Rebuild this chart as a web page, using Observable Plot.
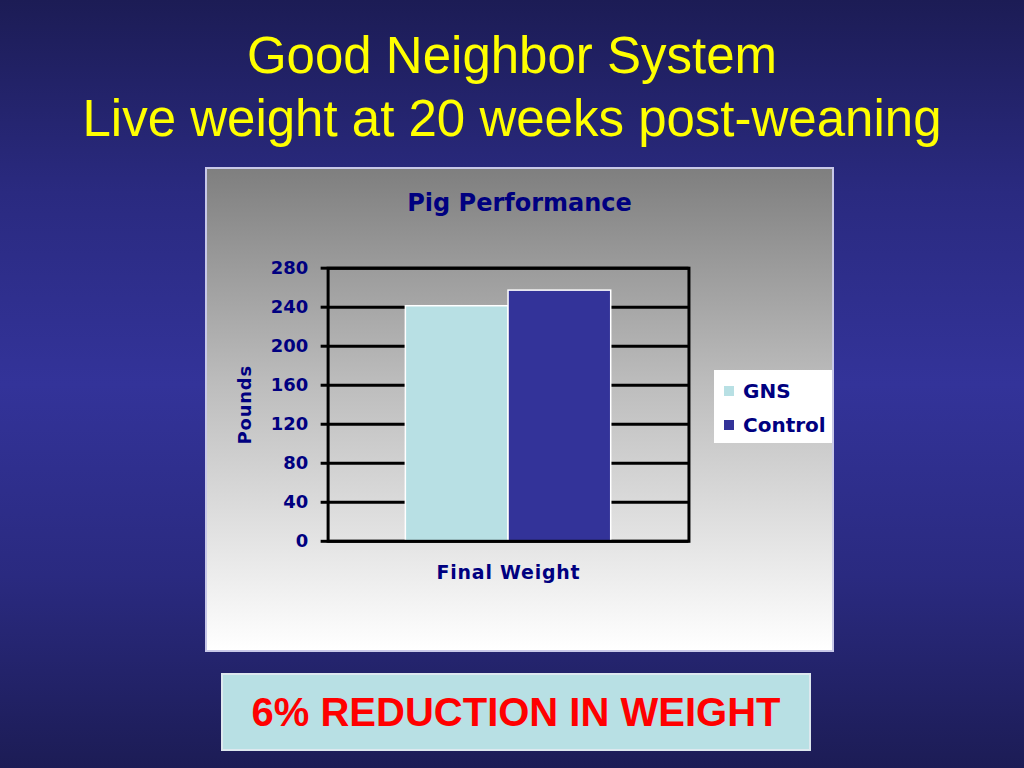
<!DOCTYPE html>
<html>
<head>
<meta charset="utf-8">
<script src="https://cdn.jsdelivr.net/npm/d3@7"></script>
<script src="https://cdn.jsdelivr.net/npm/@observablehq/plot@0.6"></script>
<style>
  html, body { margin: 0; padding: 0; }
  body {
    width: 1024px; height: 768px; overflow: hidden; position: relative;
    background: linear-gradient(to bottom, #1c1c55 0%, #2a2a80 25%, #333399 50%, #2a2a80 75%, #1c1c55 100%);
    font-family: "Liberation Sans", Arial, sans-serif;
  }
  .title {
    position: absolute; left: 0; width: 1024px; text-align: center;
    color: #ffff00; font-size: 51px; line-height: 1;
  }
  #chartbox {
    position: absolute; left: 205px; top: 167px; width: 629px; height: 485px;
    box-sizing: border-box; border: 2px solid #c8c8e8;
    background: linear-gradient(to bottom, #7f7f7f 0%, #bdbdbd 45%, #ffffff 100%);
  }
  #chart { position: absolute; left: -2px; top: -2px; }
  #chart svg text { font-family: "DejaVu Sans", sans-serif; }
  #ctitle {
    position: absolute; left: 0; width: 625px; top: 20px; text-align: center;
    color: #000080; font-weight: bold; font-size: 24px; font-family: "DejaVu Sans", sans-serif;
  }
  #legend {
    position: absolute; left: 507px; top: 201px; width: 118px; height: 73px;
    background: #ffffff; box-sizing: border-box; padding: 8px 0 0 10px;
  }
  .li { display: flex; align-items: center; height: 26px; margin-bottom: 8px;
        color: #000080; font-weight: bold; font-size: 20px; font-family: "DejaVu Sans", sans-serif; }
  .sw { width: 10px; height: 10px; margin-right: 9px; }
  #note {
    position: absolute; left: 221px; top: 673px; width: 590px; height: 78px;
    box-sizing: border-box; border: 2px solid #dde8ee; background: #b8e0e4;
    color: #ff0000; font-weight: bold; font-size: 40px;
    display: flex; align-items: center; justify-content: center;
  }
</style>
</head>
<body>
<div class="title" style="top:30px">Good Neighbor System</div>
<div class="title" style="top:93px">Live weight at 20 weeks post-weaning</div>
<div id="chartbox">
  <div id="ctitle">Pig Performance</div>
  <div id="chart"></div>
  <div id="legend"></div>
</div>
<div id="note">6% REDUCTION IN WEIGHT</div>
<script>
const categories = ["Final Weight"];
const series = ["GNS", "Control"];
const values = [241, 257];
const colors = ["#b8e0e4", "#333399"];
const yTicks = [0, 40, 80, 120, 160, 200, 240, 280];

const data = series.map((s, i) => ({category: categories[0], series: s, value: values[i]}));

const chart = Plot.plot({
  width: 629, height: 485,
  marginLeft: 123, marginRight: 144, marginTop: 101, marginBottom: 110,
  style: {background: "transparent", fontFamily: "'DejaVu Sans', sans-serif", color: "#000", overflow: "visible"},
  fx: {domain: categories, padding: 0, label: null},
  x: {domain: series, paddingOuter: 0.75, paddingInner: 0, axis: null},
  y: {domain: [0, 280], ticks: yTicks},
  color: {domain: series, range: colors},
  marks: [
    Plot.gridY(yTicks, {stroke: "#000", strokeOpacity: 1, strokeWidth: 3}),
    Plot.barY(data, {fx: "category", x: "series", y: "value", fill: "series", stroke: "#ffffff", strokeWidth: 1.5}),
    Plot.frame({stroke: "#000", strokeWidth: 3}),
    Plot.axisY({ticks: yTicks, tickSize: 7, tickPadding: 13, strokeWidth: 3, fontSize: 18, fontWeight: "bold", fill: "#000080",
      label: "Pounds", labelAnchor: "center", labelOffset: 90, labelArrow: "none"}),
    Plot.axisFx({anchor: "bottom", tickSize: 0, tickPadding: 24, fontSize: 19, fontWeight: "bold", fill: "#000080", label: null})
  ]
});
document.getElementById("chart").appendChild(chart);
d3.select(chart).selectAll("[aria-label='fx-axis tick label'] text, [aria-label='y-axis label'] text, [aria-label='y-axis label']")
  .style("letter-spacing", "0.8px");

const legend = document.getElementById("legend");
series.forEach((s, i) => {
  const row = document.createElement("div");
  row.className = "li";
  const sw = document.createElement("div");
  sw.className = "sw";
  sw.style.background = colors[i];
  row.appendChild(sw);
  row.appendChild(document.createTextNode(s));
  legend.appendChild(row);
});
</script>
</body>
</html>
